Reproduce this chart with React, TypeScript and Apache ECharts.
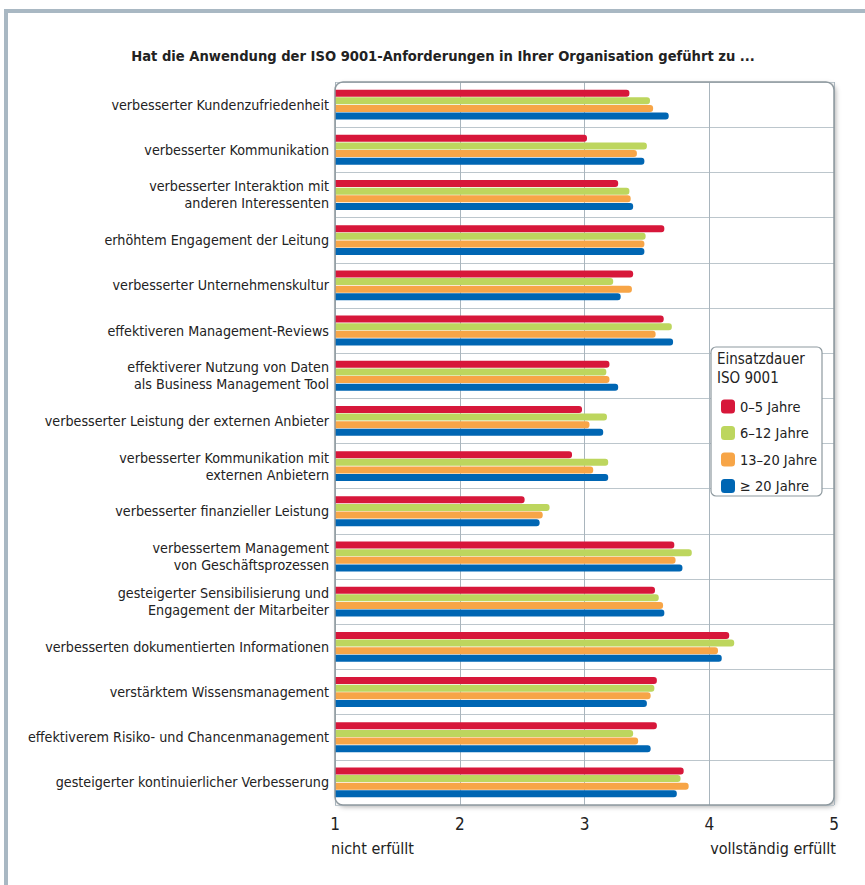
import React, { useEffect, useRef } from "react";
import * as echarts from "echarts";

const FONT = "'Liberation Sans Narrow', 'DejaVu Sans Condensed', 'Roboto Condensed', 'Liberation Sans', sans-serif";

const titleText = "Hat die Anwendung der ISO 9001-Anforderungen in Ihrer Organisation geführt zu ...";

const categories = [
  "verbesserter Kundenzufriedenheit",
  "verbesserter Kommunikation",
  "verbesserter Interaktion mit\nanderen Interessenten",
  "erhöhtem Engagement der Leitung",
  "verbesserter Unternehmenskultur",
  "effektiveren Management-Reviews",
  "effektiverer Nutzung von Daten\nals Business Management Tool",
  "verbesserter Leistung der externen Anbieter",
  "verbesserter Kommunikation mit\nexternen Anbietern",
  "verbesserter finanzieller Leistung",
  "verbessertem Management\nvon Geschäftsprozessen",
  "gesteigerter Sensibilisierung und\nEngagement der Mitarbeiter",
  "verbesserten dokumentierten Informationen",
  "verstärktem Wissensmanagement",
  "effektiverem Risiko- und Chancenmanagement",
  "gesteigerter kontinuierlicher Verbesserung",
];

const seriesNames = ["0–5 Jahre", "6–12 Jahre", "13–20 Jahre", "≥ 20 Jahre"];
const seriesColors = ["#d7173a", "#bdd65e", "#f7a547", "#0066b3"];

const years0to5 = [3.36, 3.02, 3.27, 3.64, 3.39, 3.635, 3.2, 2.98, 2.9, 2.52, 3.72, 3.565, 4.16, 3.58, 3.58, 3.795];
const years6to12 = [3.525, 3.5, 3.36, 3.49, 3.23, 3.7, 3.175, 3.18, 3.19, 2.72, 3.86, 3.595, 4.2, 3.56, 3.39, 3.77];
const years13to20 = [3.55, 3.42, 3.37, 3.48, 3.38, 3.57, 3.2, 3.04, 3.07, 2.665, 3.73, 3.63, 4.07, 3.53, 3.43, 3.835];
const years20plus = [3.675, 3.48, 3.39, 3.48, 3.29, 3.71, 3.27, 3.15, 3.19, 2.64, 3.785, 3.64, 4.1, 3.5, 3.53, 3.74];

const seriesValues = [years0to5, years6to12, years13to20, years20plus];

const xTicks = [1, 2, 3, 4, 5];
const scaleLow = "nicht erfüllt";
const scaleHigh = "vollständig erfüllt";
const legendTitle = ["Einsatzdauer", "ISO 9001"];

const W = 865;
const H = 885;
const grid = { left: 335, top: 82, right: 31, bottom: 80 };

export default function App() {
  const ref = useRef<HTMLDivElement>(null);

  useEffect(() => {
    if (!ref.current) return;
    const chart = echarts.init(ref.current, undefined, { renderer: "svg" });
    const plotW = W - grid.left - grid.right;
    const plotH = H - grid.top - grid.bottom;

    chart.setOption({
      animation: false,
      backgroundColor: "#ffffff",
      textStyle: { fontFamily: FONT },
      title: {
        text: titleText,
        left: 438,
        textAlign: "center",
        top: 43,
        textStyle: { fontFamily: FONT, fontSize: 14.6, fontWeight: "bold", color: "#222" },
      },
      grid: { ...grid, containLabel: false },
      xAxis: {
        type: "value",
        min: xTicks[0],
        max: xTicks[xTicks.length - 1],
        interval: 1,
        axisLine: { show: false },
        axisTick: { show: false },
        splitLine: { show: true, lineStyle: { color: "#a9b5bd", width: 1 } },
        axisLabel: {
          fontFamily: FONT,
          fontSize: 17,
          color: "#222",
          margin: 10,
          formatter: (v: number) => String(v),
        },
      },
      yAxis: {
        type: "category",
        data: categories,
        inverse: true,
        axisLine: { show: false },
        axisTick: { show: false },
        splitLine: { show: true, interval: 0, lineStyle: { color: "#bcc6cc", width: 1 } },
        axisLabel: {
          fontFamily: FONT,
          fontSize: 14.2,
          lineHeight: 17,
          color: "#222",
          margin: 6,
          interval: 0,
          align: "right",
        },
      },
      legend: {
        z: 100,
        orient: "vertical",
        left: 716,
        top: 394,
        itemWidth: 14,
        itemHeight: 14,
        itemGap: 11.5,
        icon: "roundRect",
        data: seriesNames,
        textStyle: { fontFamily: FONT, fontSize: 14.5, color: "#222" },
      },
      graphic: [
        // outer frame
        { type: "line", z: -20, shape: { x1: 4, y1: 11, x2: W, y2: 11 }, style: { stroke: "#a9b8c3", lineWidth: 4 } },
        { type: "line", z: -20, shape: { x1: 6, y1: 9, x2: 6, y2: H }, style: { stroke: "#a9b8c3", lineWidth: 4 } },
        // plot panel background
        {
          type: "rect",
          z: -10,
          shape: { x: grid.left, y: grid.top, width: plotW, height: plotH, r: 8 },
          style: {
            fill: "#ffffff",
            shadowBlur: 5,
            shadowOffsetX: 2,
            shadowOffsetY: 2,
            shadowColor: "rgba(0,0,0,0.3)",
          },
        },
        // plot panel border
        {
          type: "rect",
          z: 50,
          shape: { x: grid.left, y: grid.top, width: plotW, height: plotH, r: 8 },
          style: { fill: "none", stroke: "#8e999f", lineWidth: 1.5 },
        },
        // legend box
        {
          type: "rect",
          z: 60,
          shape: { x: 711, y: 347, width: 111, height: 149, r: 5 },
          style: { fill: "#ffffff", stroke: "#8e999f", lineWidth: 1.2 },
        },
        {
          type: "text",
          z: 61,
          x: 717,
          y: 351,
          style: { text: legendTitle[0], fontFamily: FONT, fontSize: 15, fill: "#222" },
        },
        {
          type: "text",
          z: 61,
          x: 717,
          y: 370,
          style: { text: legendTitle[1], fontFamily: FONT, fontSize: 15, fill: "#222" },
        },
        {
          type: "text",
          x: 331,
          y: 848,
          style: { text: scaleLow, fontFamily: FONT, fontSize: 16, fill: "#222", verticalAlign: "middle" },
        },
        {
          type: "text",
          x: 836,
          y: 848,
          style: {
            text: scaleHigh,
            fontFamily: FONT,
            fontSize: 16,
            fill: "#222",
            align: "right",
            verticalAlign: "middle",
          },
        },
      ],
      series: seriesNames.map((name, i) => ({
        name,
        type: "bar",
        data: seriesValues[i],
        barWidth: 7,
        barGap: "9%",
        itemStyle: { color: seriesColors[i], borderRadius: [0, 3, 3, 0] },
        z: 5,
      })),
    });

    return () => chart.dispose();
  }, []);

  return (
    <div
      ref={ref}
      style={{ position: "fixed", left: 0, top: 0, width: W, height: H, background: "#fff" }}
    />
  );
}
